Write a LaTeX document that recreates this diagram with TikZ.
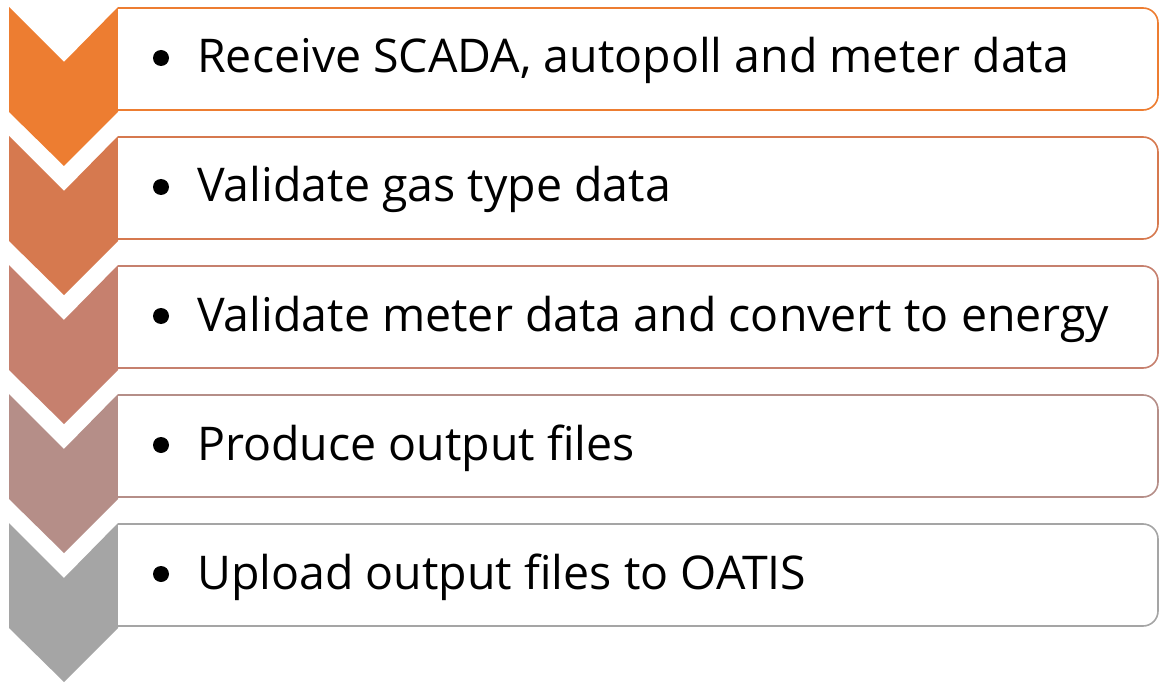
\documentclass[tikz,border=0pt]{standalone}
\usepackage{fontspec}
\setmainfont{Open Sans}
\definecolor{stepA}{HTML}{ED7D31}
\definecolor{stepB}{HTML}{D6794F}
\definecolor{stepC}{HTML}{C6806E}
\definecolor{stepD}{HTML}{B58E88}
\definecolor{stepE}{HTML}{A5A5A5}
\tikzset{
  x=1pt, y=-1pt,
  boxline/.style={draw=#1, line width=1.6pt, fill=white},
  itemtext/.style={anchor=base west, inner sep=0pt, font=\fontsize{46.5}{56}\selectfont},
  bulletdot/.style={circle, fill=black, inner sep=0pt, minimum size=16pt}
}
\begin{document}
\begin{tikzpicture}
\useasboundingbox (0,0) rectangle (1159,687);
\foreach \i/\col/\txt in {
  0/stepA/{Receive SCADA, autopoll and meter data},
  1/stepB/{Validate gas type data},
  2/stepC/{Validate meter data and convert to energy},
  3/stepD/{Produce output files},
  4/stepE/{Upload output files to OATIS}}{
  \pgfmathsetmacro{\t}{7+129*\i}
  % chevron
  \fill[\col] (9,\t) -- (64,\t+55) -- (118,\t) -- (118,\t+105) -- (64,\t+159) -- (9,\t+105) -- cycle;
  % box with rounded right corners
  \draw[boxline=\col] (118,\t+1) -- (1143,\t+1) arc[start angle=-90, end angle=0, radius=15]
    -- (1158,\t+88) arc[start angle=0, end angle=90, radius=15] -- (118,\t+103);
  \node[bulletdot] (b\i) at (161,\t+51) {};
  \node[itemtext] (t\i) at (197,\t+66) {\txt};
}
\end{tikzpicture}
\end{document}
